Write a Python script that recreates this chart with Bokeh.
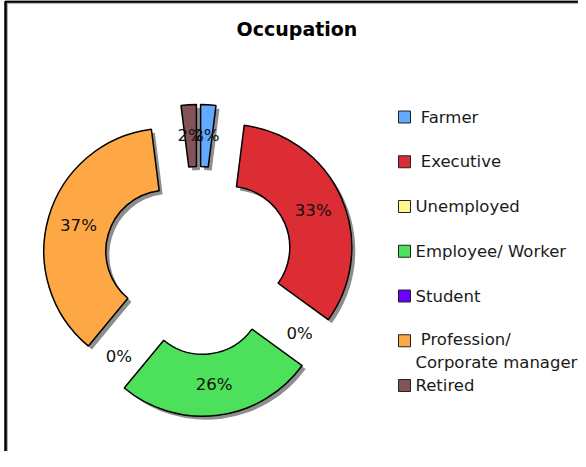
import math
from bokeh.plotting import figure
from bokeh.models import Range1d, ColumnDataSource
from bokeh.core.properties import value
from bokeh.embed import file_html
from bokeh.resources import INLINE

# ---- data ----
categories = ["Farmer", "Executive", "Unemployed", "Employee/ Worker", "Student",
              "Profession/ Corporate manager", "Retired"]
NB = "\u00a0"
legend_labels = [NB + "Farmer", NB + "Executive", "Unemployed", "Employee/ Worker", "Student",
                 NB + "Profession/\nCorporate manager", "Retired"]
shares = [2, 33, 0, 26, 0, 37, 2]
colors = ["#62A9FF", "#DC2C34", "#FFF68F", "#4DE05A", "#6A00FF", "#FDA845", "#845357"]
title_text = "Occupation"

# ---- layout (pixel-like data units) ----
W, H = 578, 451
CX, CY = 198, 191          # donut centre
R_OUT, R_IN = 123, 61
EXPLODE = 33
SHADOW = 3.5
FONT = "DejaVu Sans"

p = figure(width=W, height=H, output_backend="svg", toolbar_location=None,
           x_range=Range1d(0, W), y_range=Range1d(0, H), min_border=0)
p.axis.visible = False
p.grid.visible = False
p.outline_line_color = None
p.background_fill_color = "white"

# frame
p.quad(left=[6.5], right=[W + 20], top=[448.5], bottom=[-20], fill_color=None,
       line_color="#9a9a9a", line_width=1.5)
p.quad(left=[5], right=[W + 20], top=[450], bottom=[-20], fill_color=None,
       line_color="black", line_width=2.5)

total = float(sum(shares))
xs, ys, sa, ea, fc, lx, ly, lt = [], [], [], [], [], [], [], []
cum = 0.0
for s, c in zip(shares, colors):
    a0 = cum / total * 2 * math.pi
    cum += s
    a1 = cum / total * 2 * math.pi
    mid = (a0 + a1) / 2
    dx, dy = math.sin(mid), math.cos(mid)
    ox, oy = CX + EXPLODE * dx, CY + EXPLODE * dy
    rl = EXPLODE + (R_OUT + R_IN) / 2
    lx.append(CX + rl * dx)
    ly.append(CY + rl * dy)
    lt.append(f"{s:.0f}%")
    if s > 0:
        xs.append(ox); ys.append(oy)
        sa.append(math.pi / 2 - a1); ea.append(math.pi / 2 - a0)
        fc.append(c)

src = ColumnDataSource(dict(x=xs, y=ys, sa=sa, ea=ea, fc=fc,
                            sx=[v + SHADOW for v in xs], sy=[v - SHADOW for v in ys]))
p.annular_wedge(x="sx", y="sy", inner_radius=R_IN, outer_radius=R_OUT,
                start_angle="sa", end_angle="ea", source=src,
                fill_color="#7a7a7a", fill_alpha=0.85, line_color=None)
p.annular_wedge(x="x", y="y", inner_radius=R_IN, outer_radius=R_OUT,
                start_angle="sa", end_angle="ea", source=src,
                fill_color="fc", line_color="black", line_width=1.5)

p.text(x=lx, y=ly, text=lt, text_font=value(FONT), text_font_size="16.6px",
       text_align="center", text_baseline="middle", text_color="#111111")

# title
p.text(x=[296.5], y=[459 - 36.5], text=[title_text], text_font=value(FONT),
       text_font_size="19px", text_font_style="bold", text_align="center",
       text_baseline="middle", text_color="black")

# legend
row0, step = 459 - 124.5, 44.75
sq_x, tx = 404, 415
rows_y = [row0 - i * step for i in range(len(categories))]
p.rect(x=[sq_x] * len(rows_y), y=rows_y, width=12, height=12, fill_color=colors,
       line_color="#222222", line_width=1)
line_h = 20
text_y = [y - (lab.count("\n")) * line_h / 2 for y, lab in zip(rows_y, legend_labels)]
p.text(x=[tx] * len(rows_y), y=text_y, text=legend_labels, text_font=value(FONT),
       text_font_size="16.5px", text_align="left", text_baseline="middle",
       text_color="#1a1a1a", text_line_height=1.2)

open("out.html", "w").write(file_html(p, INLINE))
